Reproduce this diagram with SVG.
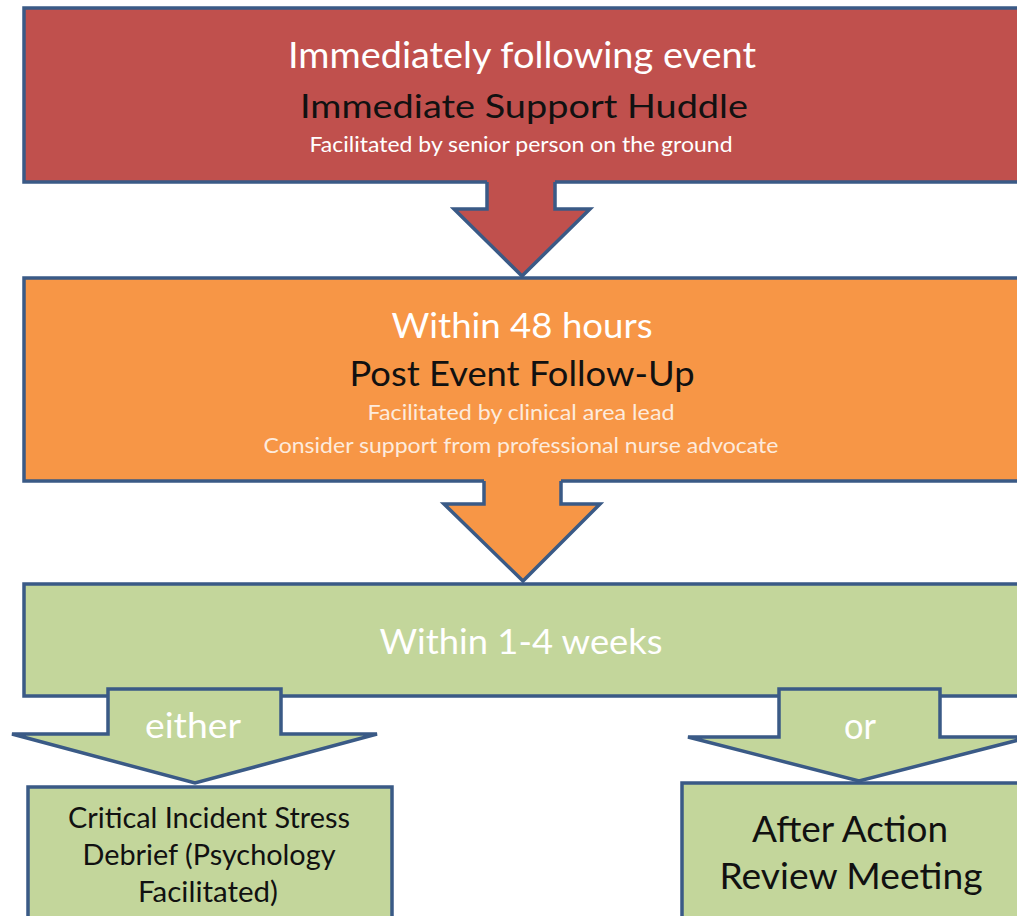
<svg xmlns="http://www.w3.org/2000/svg" width="1017" height="916" viewBox="0 0 1017 916">
<style>
.box{stroke:#3A5A86;stroke-width:3.5;stroke-linejoin:miter}
.red{fill:#C0504D}
.orange{fill:#F79646}
.green{fill:#C3D69B}
.t{font-family:Lato,"Liberation Sans",sans-serif;text-anchor:middle}
.w{fill:#FFFFFF}
.pe{fill:#FDEBDD}
.k{fill:#111111}
.edge{stroke:#3A5A86;stroke-width:3.5;stroke-linejoin:miter;fill:none}
.garrow{stroke:#3A5A86;stroke-width:3.5;stroke-linejoin:miter;fill:#C3D69B}
</style>
<rect x="0" y="0" width="1017" height="916" fill="#FFFFFF"/>
<g id="node-huddle">
<rect class="box red" x="24" y="8" width="1010" height="174"/>
<text class="t w" x="522" y="68" font-size="36" textLength="468" lengthAdjust="spacingAndGlyphs">Immediately following event</text>
<text class="t k" x="524" y="118" font-size="33" textLength="448" lengthAdjust="spacingAndGlyphs">Immediate Support Huddle</text>
<text class="t w" x="521" y="152" font-size="21" textLength="423" lengthAdjust="spacingAndGlyphs">Facilitated by senior person on the ground</text>
</g>
<g id="node-followup">
<rect class="box orange" x="24" y="278" width="1010" height="203"/>
<text class="t w" x="522" y="338" font-size="35" textLength="261" lengthAdjust="spacingAndGlyphs">Within 48 hours</text>
<text class="t k" x="522" y="386" font-size="34" textLength="345" lengthAdjust="spacingAndGlyphs">Post Event Follow-Up</text>
<text class="t pe" x="521" y="420" font-size="21" textLength="307" lengthAdjust="spacingAndGlyphs">Facilitated by clinical area lead</text>
<text class="t pe" x="521" y="453" font-size="21" textLength="515" lengthAdjust="spacingAndGlyphs">Consider support from professional nurse advocate</text>
</g>
<g id="node-weeks">
<rect class="box green" x="24" y="584" width="1010" height="112"/>
<text class="t w" x="521" y="654" font-size="35" textLength="283" lengthAdjust="spacingAndGlyphs">Within 1-4 weeks</text>
</g>
<g id="node-cisd">
<rect class="box green" x="28" y="787" width="364" height="140"/>
<text class="t k" x="209" y="828" font-size="28" textLength="282" lengthAdjust="spacingAndGlyphs">Critical Incident Stress</text>
<text class="t k" x="209" y="865" font-size="28" textLength="253" lengthAdjust="spacingAndGlyphs">Debrief (Psychology</text>
<text class="t k" x="208" y="902" font-size="28" textLength="140" lengthAdjust="spacingAndGlyphs">Facilitated)</text>
</g>
<g id="node-aar">
<rect class="box green" x="682" y="783" width="360" height="150"/>
<text class="t k" x="850" y="842" font-size="37" textLength="196" lengthAdjust="spacingAndGlyphs">After Action</text>
<text class="t k" x="851" y="889" font-size="37" textLength="263" lengthAdjust="spacingAndGlyphs">Review Meeting</text>
</g>
<g id="connectors">
<polygon class="red" points="487,178 555,178 555,209 590,209 522,276 454,209 487,209"/>
<polyline class="edge" points="487,182 487,209 454,209 522,276 590,209 555,209 555,182"/>
<polygon class="orange" points="484,476 561,476 561,504 600,504 523,581 444,504 484,504"/>
<polyline class="edge" points="484,481 484,504 444,504 523,581 600,504 561,504 561,481"/>
<polygon class="garrow" points="108,689 281,689 281,734 377,734 195,783 12,734 108,734"/>
<text class="t w" x="193" y="738" font-size="34" textLength="96" lengthAdjust="spacingAndGlyphs">either</text>
<polygon class="garrow" points="779,689 940,689 940,737 1030,737 859,781 688,737 779,737"/>
<text class="t w" x="860" y="739" font-size="36" textLength="32" lengthAdjust="spacingAndGlyphs">or</text>
</g>
</svg>
